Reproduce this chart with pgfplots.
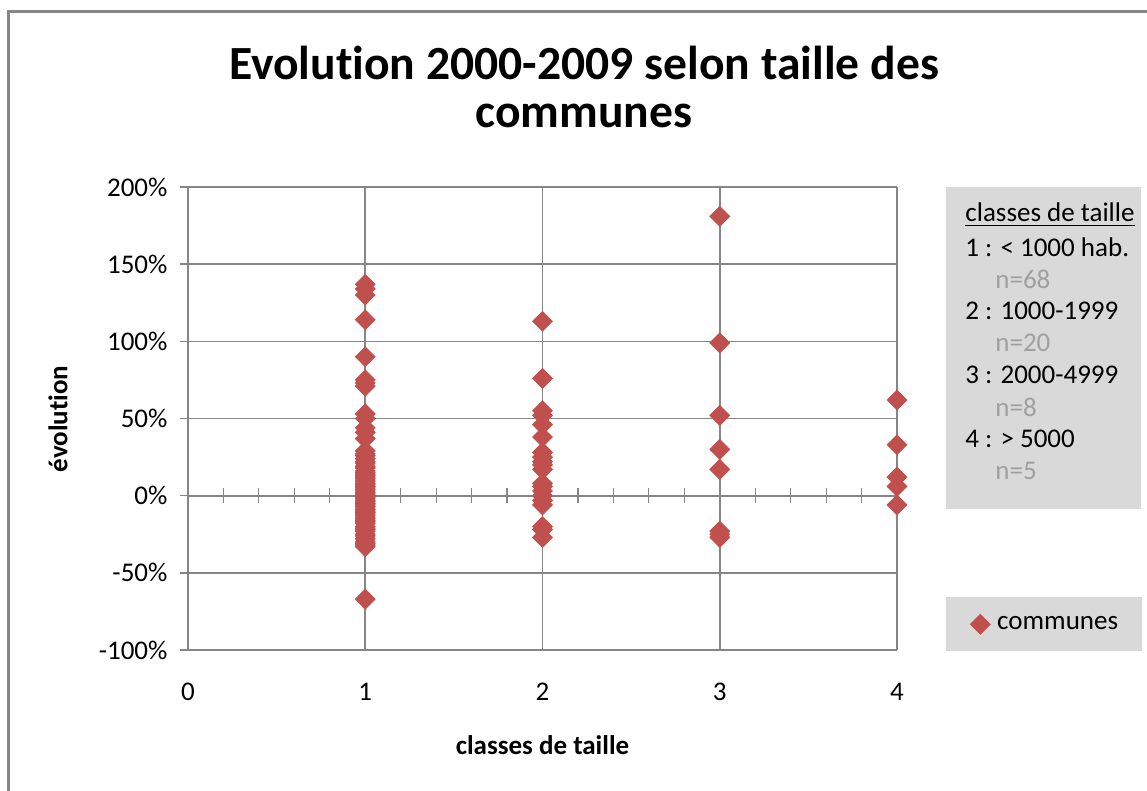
\documentclass[border=0pt]{standalone}
\usepackage{pgfplots}
\pgfplotsset{compat=1.18}
\usepackage{fontspec}
\setmainfont{Carlito}[Ligatures=NoCommon]
\definecolor{gridgray}{HTML}{868686}
\definecolor{legendgray}{HTML}{D9D9D9}
\definecolor{markred}{HTML}{C0504D}
\definecolor{ngray}{HTML}{A0A0A0}
\newcommand{\tfont}{\fontsize{13.5}{16}\selectfont}
\begin{document}
\begin{tikzpicture}
\path[use as bounding box] (0pt,0pt) rectangle (573.5pt,-395.5pt);
\draw[gridgray, line width=1.5pt] (4.25pt,-395.5pt) -- (4.25pt,-5.75pt) -- (573.5pt,-5.75pt);
% title
\node[font=\fontsize{23.8}{26.5}\selectfont\bfseries] at (292pt,-31.5pt) {Evolution 2000-2009 selon taille des};
\node[font=\fontsize{23.8}{26.5}\selectfont\bfseries] at (292pt,-58pt) {communes};
% axis labels
\node[font=\tfont\bfseries] at (271.25pt,-372.5pt) {classes de taille};
\node[font=\tfont\bfseries, rotate=90] at (29pt,-209.5pt) {évolution};
% legend box 1
\fill[legendgray] (473pt,-93.5pt) rectangle (570.5pt,-254.5pt);
\begin{scope}[every node/.style={font=\tfont, anchor=base west, inner sep=0pt}]
\node at (482.5pt,-111pt) {\underline{classes de taille}};
\node at (482.5pt,-128.5pt) {1 : < 1000 hab.};
\node[text=ngray] at (497.5pt,-144.5pt) {n=68};
\node at (482.5pt,-160pt) {2 : 1000-1999};
\node[text=ngray] at (497.5pt,-176pt) {n=20};
\node at (482.5pt,-192pt) {3 : 2000-4999};
\node[text=ngray] at (497.5pt,-208pt) {n=8};
\node at (482.5pt,-224pt) {4 : > 5000};
\node[text=ngray] at (497.5pt,-240pt) {n=5};
\end{scope}
\begin{axis}[
  at={(94pt,-93.5pt)}, anchor=north west,
  scale only axis, width=354.5pt, height=231.5pt,
  xmin=0, xmax=4, ymin=-100, ymax=200,
  axis x line*=middle, axis y line*=left,
  hide obscured x ticks=false,
  xtick={0,1,2,3,4}, minor x tick num=4,
  ytick={-100,-50,0,50,100,150,200},
  tick align=center,
  major tick length=7.5pt, minor tick length=7.5pt,
  xmajorgrids, ymajorgrids,
  major grid style={draw=gridgray, line width=0.8pt},
  axis line style={draw=gridgray, line width=1pt},
  tick style={draw=gridgray, line width=0.8pt},
  minor tick style={draw=gridgray, line width=0.6pt},
  extra x ticks={3}, extra x tick labels={},
  extra x tick style={grid style={draw=gridgray, line width=1.3pt}},
  /pgf/number format/assume math mode=true,
  ticklabel style={font=\tfont},
  xticklabel style={yshift=-86.5pt},
  yticklabel style={xshift=-3pt},
  yticklabel={\pgfmathprintnumber{\tick}\%},
  legend style={at={(axis description cs:1.0691,0.1145)}, anchor=north west,
    fill=legendgray, draw=none, font=\tfont,
    inner xsep=12pt, inner ysep=8.5pt, nodes={inner sep=0pt},
    /tikz/every odd column/.append style={column sep=3.5pt}},
  legend image code/.code={\draw[#1] plot coordinates {(0pt,0pt)};},
]
\addplot[only marks, mark=square*, mark size=3.5pt,
  mark options={rotate=45, fill=markred, draw=markred}]
coordinates {
(1,137) (1,134) (1,130) (1,114) (1,90) (1,75) (1,73) (1,71) (1,53) (1,50)
(1,44) (1,41) (1,37) (1,-67)
(1,29) (1,27) (1,26) (1,24) (1,22) (1,21) (1,19) (1,18) (1,16) (1,15)
(1,14) (1,13) (1,12) (1,11) (1,10) (1,9) (1,8) (1,7) (1,6) (1,5)
(1,4) (1,3) (1,2) (1,1) (1,0) (1,-1) (1,-2) (1,-3) (1,-4) (1,-5)
(1,-6) (1,-7) (1,-8) (1,-9) (1,-10) (1,-11) (1,-12) (1,-13) (1,-14) (1,-15)
(1,-16) (1,-17) (1,-18) (1,-20) (1,-21) (1,-22) (1,-23) (1,-25) (1,-26) (1,-28)
(1,-30) (1,-31) (1,-32) (1,-33)
(2,113) (2,76) (2,55) (2,52) (2,46) (2,38) (2,28) (2,25) (2,22) (2,20)
(2,17) (2,8) (2,6) (2,3) (2,0) (2,-3) (2,-6) (2,-20) (2,-22) (2,-27)
(3,181) (3,99) (3,52) (3,30) (3,17) (3,-23) (3,-25) (3,-27)
(4,62) (4,33) (4,12) (4,6) (4,-6)
};
\addlegendentry{communes}
\end{axis}
\end{tikzpicture}
\end{document}
